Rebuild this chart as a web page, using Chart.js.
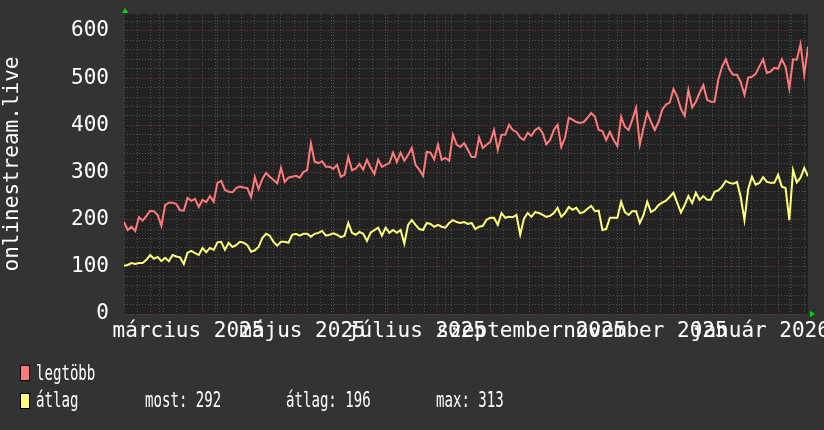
<!DOCTYPE html>
<html>
<head>
<meta charset="utf-8">
<title>onlinestream.live</title>
<script src="https://cdn.jsdelivr.net/npm/chart.js@4.4.1/dist/chart.umd.min.js"></script>
<style>
  html, body { margin: 0; padding: 0; background: #333333; }
  #wrap { position: relative; width: 824px; height: 430px; overflow: hidden; }
  canvas { display: block; }
  .leg { position: absolute; font-family: 'DejaVu Sans Mono', monospace; font-size: 21px; line-height: 21px;
         color: #ffffff; white-space: pre; transform: scaleX(0.67); transform-origin: 0 0; }
  .box { position: absolute; width: 8px; height: 14px; border: 1px solid #000000; }
</style>
</head>
<body>
<div id="wrap">
  <canvas id="chart" width="824" height="430"></canvas>
  <div class="box" style="left:20px;top:365px;background:#ff7b7b"></div>
  <div class="leg" style="left:36px;top:363px">legtöbb</div>
  <div class="box" style="left:20px;top:393px;background:#ffff7b"></div>
  <div class="leg" style="left:36px;top:390px">átlag</div>
  <div class="leg" style="left:145px;top:390px">most: 292</div>
  <div class="leg" style="left:286px;top:390px">átlag: 196</div>
  <div class="leg" style="left:436px;top:390px">max: 313</div>
</div>
<script>
'use strict';

// ─── Data ─────────────────────────────────────────────────────────────────────
// one sample every 2 days, day 0 = 2025-02-10
const STEP_DAYS = 2;
const X_MAX = 366;
const Y_MAX = 636;

const legtobb = [
  195,178,185,176,205,198,208,219,218,210,187,231,236,236,233,220,219,246,240,244,
  227,242,237,250,238,278,282,263,259,258,267,270,268,267,248,290,265,286,299,291,
  284,277,310,280,289,291,293,289,301,305,362,323,320,324,312,312,308,316,291,295,
  333,305,308,318,306,327,310,297,327,312,316,320,342,322,342,325,337,352,316,306,
  293,344,342,328,359,327,331,325,380,359,354,362,348,333,333,374,352,359,365,390,
  348,380,380,401,390,386,374,369,384,378,390,395,384,360,369,390,401,354,374,416,
  412,407,405,407,416,426,418,390,388,369,386,369,356,418,397,390,412,437,359,395,
  427,407,390,407,433,444,448,477,461,435,420,475,438,450,469,485,454,450,450,497,
  524,540,518,507,507,492,465,501,503,509,525,540,511,514,522,520,540,524,478,540,
  539,572,507,567
];

const atlag = [
  102,104,108,106,108,108,115,125,117,121,112,119,112,125,122,120,106,130,134,129,
  125,140,131,140,136,152,153,136,151,142,146,153,151,146,132,135,142,161,170,166,
  153,145,153,153,151,168,170,166,170,170,164,170,172,176,166,168,171,168,163,166,
  193,172,168,174,170,155,173,178,183,166,183,172,178,172,178,149,189,199,189,180,
  178,193,191,185,189,185,183,193,199,195,193,195,191,193,180,185,187,200,204,204,
  189,214,204,206,205,210,168,202,214,206,216,214,210,206,208,214,225,206,214,227,
  221,225,214,216,223,229,218,219,178,180,204,204,204,238,216,210,218,218,193,210,
  238,216,221,231,236,240,248,257,236,215,231,250,235,257,242,250,242,242,259,262,
  270,282,278,276,280,248,199,265,291,274,278,290,280,278,278,295,270,267,199,305,
  279,289,310,292
];

// month starts (grid) and mid-month label positions, in days from day 0
const monthStarts = [19, 50, 80, 111, 141, 172, 203, 233, 264, 294, 325, 356];
const labelDays   = [34.5, 95.5, 156.5, 218, 279, 340.5];
const monthLabels = ['március 2025', 'május 2025', 'július 2025', 'szeptember 2025', 'november 2025', 'január 2026'];
const yMajor = [0, 100, 200, 300, 400, 500, 600];

// ─── Style ────────────────────────────────────────────────────────────────────
const RED = '#ff7b7b';
const YELLOW = '#ffff7b';
const GRID_MINOR = '#505050';
const GRID_MAJOR = '#7a3838';
const FONT = { family: "'DejaVu Sans Mono', monospace", size: 21 };

const toPoints = arr => arr.map((v, i) => ({ x: i * STEP_DAYS, y: v }));
const weekDays = [];
for (let d = 0; d <= X_MAX; d += 7) weekDays.push(d);
const yMinorTicks = [];
for (let v = 0; v < Y_MAX; v += 20) if (v % 100 !== 0) yMinorTicks.push(v);

const plotBg = {
  id: 'plotBg',
  beforeDraw(c) {
    const a = c.chartArea, g = c.ctx;
    g.save();
    g.fillStyle = '#222222';
    g.fillRect(a.left, a.top, a.right - a.left, a.bottom - a.top);
    g.restore();
  }
};

const arrows = {
  id: 'arrows',
  afterDraw(c) {
    const a = c.chartArea, g = c.ctx;
    g.save();
    g.fillStyle = '#00dd00';
    g.beginPath();
    g.moveTo(a.left - 2, a.top - 1); g.lineTo(a.left + 4, a.top - 1); g.lineTo(a.left + 1, a.top - 6);
    g.fill();
    g.beginPath();
    g.moveTo(a.right + 2, a.bottom - 3); g.lineTo(a.right + 2, a.bottom + 3); g.lineTo(a.right + 7, a.bottom);
    g.fill();
    g.restore();
  }
};

const noPad = s => { s.paddingLeft = 0; s.paddingRight = 0; s.paddingTop = 0; s.paddingBottom = 0; };

const gridOnly = (ticks, color, dash, horizontal) => ({
  type: 'linear',
  position: horizontal ? 'bottom' : 'left',
  min: 0,
  max: horizontal ? X_MAX : Y_MAX,
  afterBuildTicks: s => { s.ticks = ticks.map(v => ({ value: v })); },
  afterFit: s => { if (horizontal) s.height = 0; else s.width = 0; noPad(s); },
  ticks: { display: false, autoSkip: false },
  grid: { color, lineWidth: 1, drawTicks: false },
  border: { display: false, dash }
});

new Chart(document.getElementById('chart'), {
  type: 'line',
  data: {
    datasets: [
      { label: 'legtöbb', data: toPoints(legtobb), borderColor: RED, borderWidth: 2,
        pointRadius: 0, tension: 0, xAxisID: 'x', yAxisID: 'y' },
      { label: 'átlag', data: toPoints(atlag), borderColor: YELLOW, borderWidth: 2,
        pointRadius: 0, tension: 0, xAxisID: 'x', yAxisID: 'y' }
    ]
  },
  options: {
    responsive: false,
    animation: false,
    layout: { padding: { top: 14, right: 16, bottom: 76, left: 0 } },
    plugins: { legend: { display: false }, tooltip: { enabled: false } },
    scales: {
      xWeek: gridOnly(weekDays, GRID_MINOR, [1, 2], true),
      xMonth: gridOnly(monthStarts, GRID_MAJOR, [1, 2], true),
      yMinor: gridOnly(yMinorTicks, GRID_MINOR, [1, 2], false),
      x: {
        type: 'linear',
        position: 'bottom',
        min: 0,
        max: X_MAX,
        afterBuildTicks: s => { s.ticks = labelDays.map(v => ({ value: v })); },
        afterFit: s => { s.height = 40; noPad(s); },
        ticks: {
          autoSkip: false, maxRotation: 0, minRotation: 0, padding: -3,
          color: '#ffffff', font: FONT,
          callback: (v, i) => monthLabels[i]
        },
        grid: { display: false },
        border: { display: false }
      },
      y: {
        type: 'linear',
        position: 'left',
        min: 0,
        max: Y_MAX,
        afterBuildTicks: s => { s.ticks = yMajor.map(v => ({ value: v })); },
        afterFit: s => { s.width = 124; noPad(s); },
        ticks: { autoSkip: false, padding: 15, color: '#ffffff', font: FONT },
        grid: { color: GRID_MAJOR, lineWidth: 1, drawTicks: false },
        border: { display: false, dash: [1, 2] },
        title: { display: true, text: 'onlinestream.live', color: '#ffffff', font: FONT,
                 padding: { top: 0, bottom: 0 } }
      }
    }
  },
  plugins: [plotBg, arrows]
});
</script>
</body>
</html>
